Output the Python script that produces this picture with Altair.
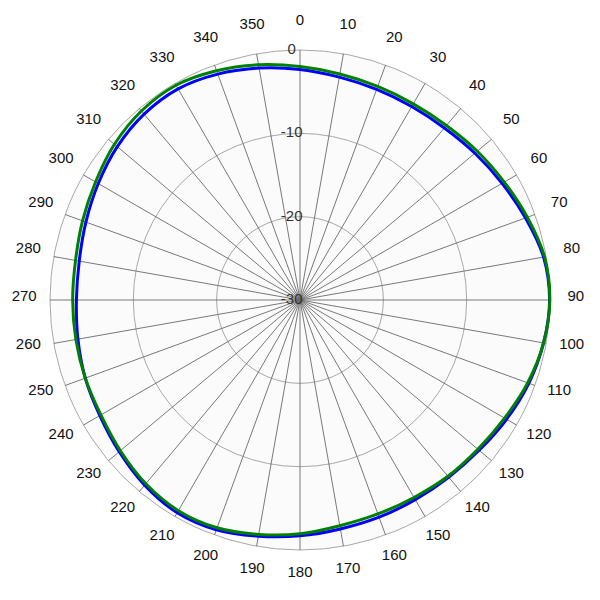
import altair as alt
import pandas as pd

# Azimuth (degrees, clockwise from north) and the two measured patterns (dB)
angles = list(range(0, 360, 10))
blue_db = [-2.34, -2.84, -3.10, -3.19, -3.05, -2.60, -2.00, -1.20, -0.32, -0.05,
           -0.32, -0.78, -1.38, -1.94, -2.24, -2.34, -2.26, -2.10, -1.70, -1.22,
           -0.66, -0.53, -1.00, -1.68, -2.26, -2.58, -2.94, -3.17, -3.10, -2.66,
           -2.05, -1.38, -0.89, -0.74, -1.15, -1.74]
green_db = [-1.99, -2.46, -2.73, -2.82, -2.67, -2.23, -1.70, -0.97, -0.20, -0.02,
            -0.32, -0.93, -1.65, -2.14, -2.39, -2.64, -2.68, -2.50, -1.95, -1.44,
            -0.91, -0.81, -1.22, -1.86, -2.41, -2.58, -2.69, -2.72, -2.65, -2.23,
            -1.67, -0.93, -0.39, -0.24, -0.72, -1.34]

ring_levels = [0, -10, -20]
radial_labels = [0, -10, -20, -30]
spoke_angles = list(range(0, 360, 10))

DB_MIN = -30          # value at the centre of the plot
R_OUT = 30            # radial extent in dB (outer ring at 0 dB)
LABEL_R = 33.1        # radius of the azimuth labels

W = H = 600
xy_scale = alt.Scale(domain=[-36, 36], nice=False, zero=False)
r_scale = alt.Scale(type="linear", domain=[0, 36], range=[0, 300], zero=True)
no_axis = None

deg = "PI / 180"

# Light disc behind the grid
disc = alt.Chart(pd.DataFrame({"r": [R_OUT]})).mark_arc(
    fill="#fbfbfb", strokeWidth=0
).encode(
    radius=alt.Radius("r:Q", scale=r_scale, stack=None),
    theta=alt.value(0),
    theta2=alt.value(6.2832),
)

# Concentric dB rings
rings = alt.Chart(pd.DataFrame({"level": ring_levels})).transform_calculate(
    r=f"datum.level - ({DB_MIN})"
).mark_arc(filled=False, stroke="#a8a8a8", strokeWidth=1).encode(
    radius=alt.Radius("r:Q", scale=r_scale, stack=None),
    theta=alt.value(0),
    theta2=alt.value(6.2832),
)

# Radial spokes every 10 degrees
spokes = alt.Chart(pd.DataFrame({"a": spoke_angles})).transform_calculate(
    x0="0",
    y0="0",
    x1=f"{R_OUT} * sin(datum.a * {deg})",
    y1=f"{R_OUT} * cos(datum.a * {deg})",
).mark_rule(color="#6a6a6a", strokeWidth=0.9).encode(
    x=alt.X("x0:Q", scale=xy_scale, axis=no_axis),
    y=alt.Y("y0:Q", scale=xy_scale, axis=no_axis),
    x2="x1:Q",
    y2="y1:Q",
)

# Azimuth labels around the outside
az_labels = alt.Chart(pd.DataFrame({"a": spoke_angles})).transform_calculate(
    lx=f"{LABEL_R} * sin(datum.a * {deg})",
    ly=f"{LABEL_R} * cos(datum.a * {deg})",
    txt="'' + datum.a",
).mark_text(
    font="Liberation Sans", fontSize=15, color="#111111",
    align="center", baseline="middle", dy=-4,
).encode(
    x=alt.X("lx:Q", scale=xy_scale, axis=no_axis),
    y=alt.Y("ly:Q", scale=xy_scale, axis=no_axis),
    text="txt:N",
)

# dB labels along the north spoke
db_labels = alt.Chart(pd.DataFrame({"level": radial_labels})).transform_calculate(
    lx="-1",
    ly=f"datum.level - ({DB_MIN})",
    txt="'' + datum.level",
).mark_text(
    font="Liberation Sans", fontSize=15, color="#333333",
    align="center", baseline="middle", dy=-1,
).encode(
    x=alt.X("lx:Q", scale=xy_scale, axis=no_axis),
    y=alt.Y("ly:Q", scale=xy_scale, axis=no_axis),
    text="txt:N",
)


def pattern(values, color):
    df = pd.DataFrame({"a": angles, "db": values})
    return alt.Chart(df).transform_calculate(
        px=f"(datum.db - ({DB_MIN})) * sin(datum.a * {deg})",
        py=f"(datum.db - ({DB_MIN})) * cos(datum.a * {deg})",
    ).mark_line(
        color=color, strokeWidth=3, interpolate="cardinal-closed"
    ).encode(
        x=alt.X("px:Q", scale=xy_scale, axis=no_axis),
        y=alt.Y("py:Q", scale=xy_scale, axis=no_axis),
        order="a:Q",
    )


blue_line = pattern(blue_db, "#0000ff")
green_line = pattern(green_db, "#008000")

chart = alt.layer(
    disc, rings, spokes, blue_line, green_line, db_labels, az_labels
).properties(
    width=W, height=H, padding=0, autosize=alt.AutoSizeParams(type="none"),
    background="white",
).configure_view(stroke=None)

chart.save("out.html", embed_options={"renderer": "svg", "actions": False})
